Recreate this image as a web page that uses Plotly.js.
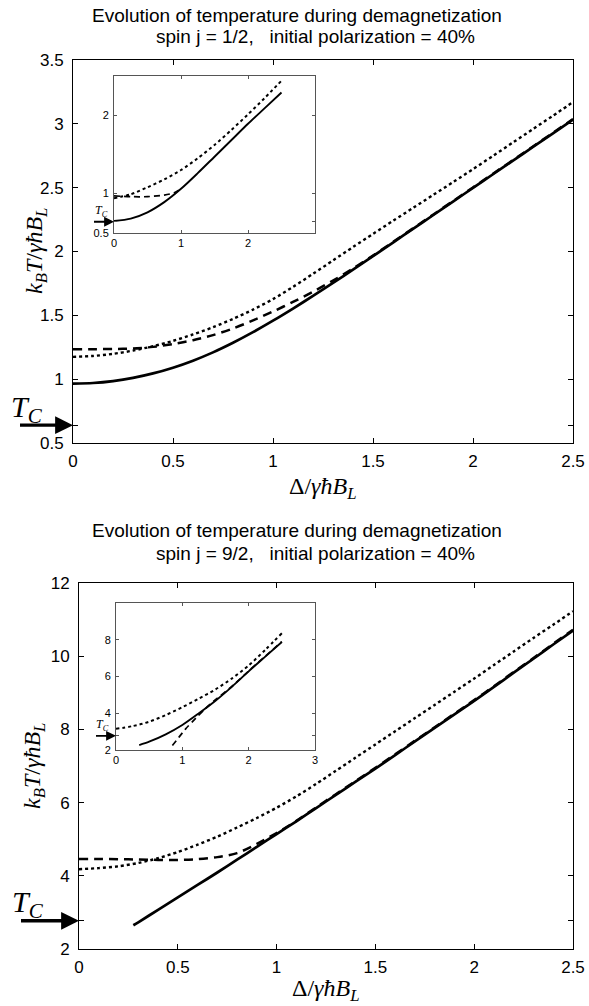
<!DOCTYPE html>
<html>
<head>
<meta charset="utf-8">
<script src="https://cdn.plot.ly/plotly-3.0.1.min.js"></script>
<style>html,body{margin:0;padding:0;background:#fff;}#chart{width:589px;height:1006px;}</style>
</head>
<body>
<div id="chart"></div>
<script>
// ---------- data ----------
const titleTop1 = "Evolution of temperature during demagnetization";
const titleTop2 = "spin j = 1/2,\u00a0\u00a0 initial polarization = 40%";
const titleBot1 = "Evolution of temperature during demagnetization";
const titleBot2 = "spin j = 9/2,\u00a0\u00a0 initial polarization = 40%";

const TC_top = 0.64;
const TC_bot = 2.77;

// top main plot (spin 1/2)
const xTop = [0,0.1,0.2,0.3,0.4,0.5,0.6,0.7,0.8,0.9,1.0,1.1,1.2,1.3,1.4,1.5,1.6,1.7,1.8,1.9,2.0,2.1,2.2,2.3,2.4,2.5];
const topSolid  = [0.965,0.970,0.985,1.010,1.045,1.090,1.145,1.210,1.285,1.368,1.458,1.553,1.652,1.754,1.858,1.963,2.070,2.177,2.284,2.391,2.498,2.605,2.712,2.819,2.926,3.033];
const topDashed = [1.235,1.235,1.236,1.240,1.253,1.275,1.305,1.345,1.397,1.460,1.530,1.605,1.685,1.772,1.866,1.968,2.074,2.181,2.288,2.395,2.502,2.609,2.716,2.823,2.930,3.037];
const topDotted = [1.175,1.182,1.198,1.224,1.258,1.300,1.350,1.407,1.472,1.545,1.627,1.723,1.825,1.930,2.035,2.138,2.240,2.341,2.442,2.543,2.645,2.749,2.854,2.959,3.064,3.170];

// top inset
const xInsTop = [0,0.25,0.5,0.75,1.0,1.25,1.5,1.75,2.0,2.25,2.5];
const insTopSolid  = [0.65,0.68,0.76,0.89,1.06,1.26,1.47,1.68,1.89,2.09,2.29];
const insTopDotted = [0.94,0.99,1.08,1.18,1.30,1.45,1.62,1.81,2.01,2.22,2.44];
const xInsTopDashed = [0,0.25,0.5,0.75,0.9,1.0];
const insTopDashed = [0.97,0.96,0.96,0.98,1.01,1.06];

// bottom main plot (spin 9/2)
const xBotSolid = [0.275,0.3,0.4,0.5,0.6,0.7,0.8,0.9,1.0,1.1,1.2,1.3,1.4,1.5,1.6,1.7,1.8,1.9,2.0,2.1,2.2,2.3,2.4,2.5];
const botSolid  = [2.65,2.73,3.07,3.41,3.75,4.09,4.44,4.79,5.14,5.49,5.85,6.21,6.57,6.93,7.30,7.67,8.04,8.41,8.78,9.16,9.55,9.93,10.32,10.70];
const xBot = [0,0.1,0.2,0.3,0.4,0.5,0.6,0.7,0.8,0.9,1.0,1.1,1.2,1.3,1.4,1.5,1.6,1.7,1.8,1.9,2.0,2.1,2.2,2.3,2.4,2.5];
const botDashed = [4.46,4.46,4.455,4.445,4.435,4.435,4.455,4.51,4.62,4.87,5.17,5.50,5.87,6.23,6.59,6.95,7.32,7.69,8.06,8.43,8.80,9.18,9.57,9.95,10.34,10.72];
const botDotted = [4.18,4.21,4.26,4.35,4.48,4.65,4.85,5.07,5.32,5.58,5.86,6.17,6.51,6.87,7.23,7.59,7.95,8.31,8.67,9.03,9.39,9.76,10.13,10.50,10.86,11.23];

// bottom inset
const xInsBotSolid = [0.35,0.5,0.75,1.0,1.25,1.5,1.75,2.0,2.25,2.5];
const insBotSolid  = [2.27,2.45,2.85,3.36,4.0,4.68,5.45,6.28,7.08,7.88];
const xInsBotDashed = [0.85,0.95,1.05,1.2,1.35,1.5,1.75,2.0,2.25,2.5];
const insBotDashed = [2.25,2.7,3.15,3.72,4.26,4.74,5.47,6.30,7.10,7.90];
const xInsBot = [0,0.25,0.5,0.75,1.0,1.25,1.5,1.75,2.0,2.25,2.5];
const insBotDotted = [3.15,3.3,3.54,3.9,4.33,4.8,5.3,5.9,6.6,7.45,8.35];

// tick labels
const mainXTicks = [0,0.5,1,1.5,2,2.5];
const mainXText = ["0","0.5","1","1.5","2","2.5"];
const topYTicks = [0.5,TC_top,1,1.5,2,2.5,3,3.5];
const topYText = ["0.5"," ","1","1.5","2","2.5","3","3.5"];
const botYTicks = [2,TC_bot,4,6,8,10,12];
const botYText = ["2"," ","4","6","8","10","12"];
const insTopXTicks = [0,1,2];
const insTopYTicks = [0.5,TC_top,1,2];
const insTopYText = ["0.5"," ","1","2"];
const insBotXTicks = [0,1,2,3];
const insBotYTicks = [2,TC_bot,4,6,8];
const insBotYText = ["2"," ","4","6","8"];

// ---------- layout helpers ----------
const W = 589, H = 1006;
const px = v => v / W;
const py = v => 1 - v / H;
const sans = "Liberation Sans, Arial, Helvetica, sans-serif";
const serif = "Liberation Serif, Times New Roman, serif";

function ln(x, y, xa, ya, dash, width) {
  return {x: x, y: y, xaxis: xa, yaxis: ya, type: 'scatter', mode: 'lines',
          line: {color: 'black', width: width, dash: dash, shape: 'spline', smoothing: 0.8},
          hoverinfo: 'skip', showlegend: false};
}

const traces = [
  ln(xTop, topDotted, 'x', 'y', 'dot', 2.4),
  ln(xTop, topDashed, 'x', 'y', '9px,6px', 2.5),
  ln(xTop, topSolid, 'x', 'y', 'solid', 2.7),
  ln(xInsTop, insTopDotted, 'x2', 'y2', 'dot', 2.0),
  ln(xInsTopDashed, insTopDashed, 'x2', 'y2', '6px,4px', 1.7),
  ln(xInsTop, insTopSolid, 'x2', 'y2', 'solid', 1.9),
  ln(xBot, botDotted, 'x3', 'y3', 'dot', 2.4),
  ln(xBot, botDashed, 'x3', 'y3', '9px,6px', 2.5),
  ln(xBotSolid, botSolid, 'x3', 'y3', 'solid', 2.7),
  ln(xInsBot, insBotDotted, 'x4', 'y4', 'dot', 2.0),
  ln(xInsBotDashed, insBotDashed, 'x4', 'y4', '6px,4px', 1.7),
  ln(xInsBotSolid, insBotSolid, 'x4', 'y4', 'solid', 1.9)
];

function axis(domain, range, tickvals, ticktext, anchor, opts) {
  const a = {domain: domain, range: range, anchor: anchor, tickmode: 'array',
             tickvals: tickvals, ticktext: ticktext, ticks: 'inside', ticklen: 5,
             tickwidth: 1, tickcolor: 'black', showline: true, linecolor: 'black',
             linewidth: 1, mirror: 'ticks', showgrid: false, zeroline: false,
             fixedrange: true, tickfont: {family: sans, size: 17, color: 'black'}};
  return Object.assign(a, opts || {});
}

const insOpts = {ticklen: 3, linecolor: '#555', tickcolor: '#555',
                 tickfont: {family: sans, size: 11, color: 'black'}};

const layout = {
  width: W, height: H, margin: {l: 0, r: 0, t: 0, b: 0},
  paper_bgcolor: 'white', plot_bgcolor: 'white', showlegend: false,
  xaxis:  axis([px(73), px(573)], [0, 2.5], mainXTicks, mainXText, 'y', {ticklabelstandoff: 3}),
  yaxis:  axis([py(443), py(60)], [0.5, 3.5], topYTicks, topYText, 'x', {ticklabelstandoff: 5}),
  xaxis2: axis([px(114), px(315)], [0, 3], insTopXTicks, insTopXTicks.map(String), 'y2', Object.assign({ticklabelstandoff: 0}, insOpts)),
  yaxis2: axis([py(232.7), py(76)], [0.5, 2.5], insTopYTicks, insTopYText, 'x2', Object.assign({ticklabelstandoff: 2}, insOpts)),
  xaxis3: axis([px(79), px(573)], [0, 2.5], mainXTicks, mainXText, 'y3', {ticklabelstandoff: 3}),
  yaxis3: axis([py(949), py(583)], [2, 12], botYTicks, botYText, 'x3', {ticklabelstandoff: 5}),
  xaxis4: axis([px(116), px(315)], [0, 3], insBotXTicks, insBotXTicks.map(String), 'y4', Object.assign({ticklabelstandoff: 0}, insOpts)),
  yaxis4: axis([py(750), py(603)], [2, 10], insBotYTicks, insBotYText, 'x4', Object.assign({ticklabelstandoff: 2}, insOpts)),
  annotations: []
};

function txt(x, y, text, size, family, angle) {
  return {xref: 'paper', yref: 'paper', x: px(x), y: py(y), text: text, showarrow: false,
          xanchor: 'center', yanchor: 'middle', textangle: angle || 0,
          font: {family: family, size: size, color: 'black'}};
}
function arrow(xr, yr, y, ax, w, s) {
  return {xref: xr, yref: yr, x: 0, y: y, ax: ax, ay: 0, axref: 'pixel', ayref: 'pixel',
          text: ' ', showarrow: true, arrowhead: 2, arrowsize: s, arrowwidth: w,
          arrowcolor: 'black', standoff: 0, font: {size: 2}};
}

const yLab = "<i>k</i><sub><i>B</i></sub><i>T</i>/<i>γħB</i><sub><i>L</i></sub>";
const xLab = "Δ/<i>γħB</i><sub><i>L</i></sub>";
const tcLab = "<i>T</i><sub><i>C</i></sub>";

layout.annotations.push(
  txt(297, 15, titleTop1, 19, sans),
  txt(315, 37, titleTop2, 19, sans),
  txt(297, 530, titleBot1, 19, sans),
  txt(315, 553, titleBot2, 19, sans),
  txt(36, 251, yLab, 24, serif, -90),
  txt(34, 766, yLab, 24, serif, -90),
  txt(323, 488, xLab, 24, serif),
  txt(326, 990, xLab, 24, serif),
  txt(27, 409, tcLab, 30, serif),
  txt(28, 904, tcLab, 30, serif),
  txt(101, 211, tcLab, 12, serif),
  txt(102, 725, tcLab, 12, serif),
  arrow('x', 'y', TC_top, -55, 3.4, 1.05),
  arrow('x3', 'y3', TC_bot, -60, 3.4, 1.05),
  arrow('x2', 'y2', TC_top, -22, 1.8, 1.1),
  arrow('x4', 'y4', TC_bot, -22, 1.8, 1.1)
);

Plotly.newPlot('chart', traces, layout, {staticPlot: true, displayModeBar: false});
</script>
</body>
</html>
